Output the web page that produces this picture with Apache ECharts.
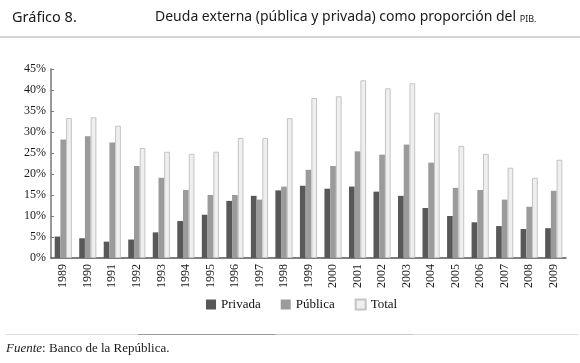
<!DOCTYPE html>
<html>
<head>
<meta charset="utf-8">
<script src="https://cdn.jsdelivr.net/npm/echarts@6/dist/echarts.min.js"></script>
<style>
  html, body { margin: 0; padding: 0; background: #fff; }
  #chart { width: 580px; height: 363px; }
</style>
</head>
<body>
<div id="chart"></div>
<script>
// años
var years = ["1989", "1990", "1991", "1992", "1993", "1994", "1995", "1996", "1997", "1998", "1999",
  "2000", "2001", "2002", "2003", "2004", "2005", "2006", "2007", "2008", "2009"];
// % del PIB
var privada = [5.1, 4.7, 3.9, 4.4, 6.1, 8.8, 10.3, 13.6, 14.8, 16.1, 17.2,
  16.5, 17.0, 15.8, 14.8, 11.9, 10.0, 8.5, 7.6, 6.9, 7.1];
var publica = [28.2, 29.0, 27.5, 21.9, 19.1, 16.2, 15.0, 15.0, 13.9, 17.0, 21.0,
  21.9, 25.4, 24.6, 27.0, 22.7, 16.7, 16.2, 13.9, 12.2, 16.0];
var total = [33.3, 33.5, 31.5, 26.2, 25.3, 24.8, 25.3, 28.6, 28.6, 33.3, 38.1,
  38.5, 42.3, 40.4, 41.6, 34.6, 26.7, 24.8, 21.5, 19.1, 23.4];

var serif = "'Liberation Serif', 'DejaVu Serif', serif";
var sans = "'Noto Sans', 'DejaVu Sans', sans-serif";

var myChart = echarts.init(document.getElementById("chart"));
myChart.setOption({
  animation: false,
  title: [
    {
      text: "Gráfico 8.",
      left: 7,
      top: 5,
      textStyle: { fontFamily: sans, fontSize: 14.5, fontWeight: "normal", color: "#1a1a1a" }
    },
    {
      text: "{a|Deuda externa (pública y privada) como proporción del }{b|PIB.}",
      left: 150,
      top: 5,
      textStyle: {
        fontWeight: "normal",
        fontFamily: sans,
        rich: {
          a: { fontFamily: sans, fontSize: 14, fontWeight: "normal", color: "#1a1a1a" },
          b: { fontFamily: sans, fontSize: 9, fontWeight: "normal", color: "#1a1a1a", verticalAlign: "bottom", padding: [3, 0, 0, 0] }
        }
      }
    }
  ],
  legend: {
    bottom: 47,
    left: 201,
    icon: "rect",
    itemWidth: 10,
    itemHeight: 10,
    itemGap: 20,
    textStyle: { fontFamily: serif, fontSize: 13, color: "#111" },
    data: ["Privada", "Pública", "Total"]
  },
  grid: { left: 51, right: 14, top: 69, bottom: 105 },
  xAxis: {
    type: "category",
    data: years,
    axisLine: { lineStyle: { color: "#555", width: 1.5 } },
    axisTick: { show: false },
    axisLabel: { rotate: 90, fontFamily: serif, fontSize: 12, color: "#1a1a1a", margin: 6, interval: 0 }
  },
  yAxis: {
    type: "value",
    min: 0,
    max: 45,
    interval: 5,
    splitLine: { show: false },
    axisLine: { show: true, lineStyle: { color: "#777", width: 1.5 } },
    axisTick: { show: true, inside: true, length: 3, lineStyle: { color: "#777" } },
    axisLabel: { formatter: "{value}%", fontFamily: serif, fontSize: 12, color: "#1a1a1a", margin: 5 }
  },
  series: [
    {
      name: "Privada",
      type: "bar",
      barGap: 0,
      barCategoryGap: "30%",
      itemStyle: { color: "#585858" },
      data: privada
    },
    {
      name: "Pública",
      type: "bar",
      itemStyle: { color: "#9b9b9b" },
      data: publica
    },
    {
      name: "Total",
      type: "bar",
      itemStyle: { color: "#efefef", borderColor: "#c4c4c4", borderWidth: 1 },
      data: total
    }
  ],
  graphic: [
    { type: "line", shape: { x1: 0, y1: 37, x2: 580, y2: 37 }, style: { stroke: "#aaa", lineWidth: 1 } },
    { type: "line", shape: { x1: 6, y1: 334.5, x2: 578, y2: 334.5 }, style: { stroke: "#ddd", lineWidth: 1 } },
    { type: "line", shape: { x1: 138, y1: 334.5, x2: 275, y2: 334.5 }, style: { stroke: "#999", lineWidth: 1 } },
    { type: "line", shape: { x1: 275, y1: 334.5, x2: 413, y2: 334.5 }, style: { stroke: "#c8c8c8", lineWidth: 1 } },
    {
      type: "text",
      left: 6,
      top: 342,
      style: {
        text: "{i|Fuente}: Banco de la República.",
        font: "13px " + serif,
        fill: "#1a1a1a",
        rich: { i: { fontStyle: "italic", fontFamily: serif, fontSize: 13 } }
      }
    }
  ]
});
</script>
</body>
</html>
